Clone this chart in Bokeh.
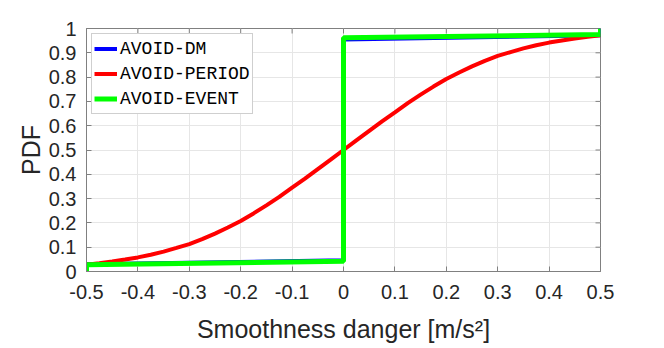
import math
from bokeh.plotting import figure
from bokeh.models import Range1d, FixedTicker, Legend, LegendItem
from bokeh.embed import file_html
from bokeh.resources import INLINE

# ---- data ----
x_ticks = [-0.5, -0.4, -0.3, -0.2, -0.1, 0.0, 0.1, 0.2, 0.3, 0.4, 0.5]
x_tick_labels = ["-0.5", "-0.4", "-0.3", "-0.2", "-0.1", "0", "0.1", "0.2", "0.3", "0.4", "0.5"]
y_ticks = [0.0, 0.1, 0.2, 0.3, 0.4, 0.5, 0.6, 0.7, 0.8, 0.9, 1.0]
y_tick_labels = ["0", "0.1", "0.2", "0.3", "0.4", "0.5", "0.6", "0.7", "0.8", "0.9", "1"]

period_x = [-0.5, -0.475, -0.45, -0.425, -0.4, -0.375, -0.35, -0.325, -0.3, -0.275,
            -0.25, -0.225, -0.2, -0.175, -0.15, -0.125, -0.1, -0.075, -0.05, -0.025,
            0.0, 0.025, 0.05, 0.075, 0.1, 0.125, 0.15, 0.175, 0.2, 0.225,
            0.25, 0.275, 0.3, 0.325, 0.35, 0.375, 0.4, 0.425, 0.45, 0.475, 0.5]
period_y = [0.028, 0.034, 0.041, 0.049, 0.058, 0.069, 0.082, 0.097, 0.113, 0.133,
            0.156, 0.181, 0.208, 0.239, 0.272, 0.307, 0.345, 0.382, 0.421, 0.460,
            0.500, 0.540, 0.579, 0.618, 0.655, 0.693, 0.728, 0.761, 0.792, 0.819,
            0.844, 0.867, 0.887, 0.903, 0.918, 0.931, 0.942, 0.951, 0.959, 0.966, 0.972]

dm_x = [-0.5, -0.5, 0.0, 0.0, 0.5, 0.5]
dm_y = [0.0, 0.030, 0.046, 0.955, 0.972, 1.0]

event_x = [-0.5, -0.5, 0.0, 0.0, 0.5, 0.5]
event_y = [0.0, 0.028, 0.042, 0.962, 0.975, 1.0]

labels = ["AVOID-DM", "AVOID-PERIOD", "AVOID-EVENT"]

# ---- figure ----
AX = "#808080"
TXT = "#262626"
GRID = "#e6e6e6"

p = figure(width=664, height=348, output_backend="svg", toolbar_location=None,
           x_range=Range1d(-0.5, 0.5), y_range=Range1d(0, 1),
           frame_width=514, frame_height=243,
           min_border_left=86, min_border_right=64, min_border_top=28, min_border_bottom=77,
           background_fill_color="white", border_fill_color="white")
p.outline_line_color = AX
p.outline_line_width = 1

xa = p.xaxis[0]
ya = p.yaxis[0]

def style_axis(ax, ticks, labs):
    ax.ticker = FixedTicker(ticks=ticks)
    ax.major_label_overrides = {t: l for t, l in zip(ticks, labs)}
    ax.axis_line_color = AX
    ax.major_tick_line_color = AX
    ax.major_tick_in = 5
    ax.major_tick_out = 0
    ax.minor_tick_line_color = None
    ax.major_label_text_font = "Liberation Sans"
    ax.major_label_text_color = TXT
    ax.major_label_text_font_size = "20px"
    ax.axis_label_text_font = "Liberation Sans"
    ax.axis_label_text_font_size = "25px"
    ax.axis_label_text_font_style = "normal"
    ax.axis_label_text_color = TXT

style_axis(xa, x_ticks, x_tick_labels)
style_axis(ya, y_ticks, y_tick_labels)
xa.major_label_standoff = 13
ya.major_label_standoff = 10
xa.axis_label = "Smoothness danger [m/s²]"
ya.axis_label = "PDF"
xa.axis_label_standoff = 13
ya.axis_label_standoff = 1

p.xgrid.ticker = FixedTicker(ticks=x_ticks)
p.ygrid.ticker = FixedTicker(ticks=y_ticks)
p.xgrid.grid_line_color = GRID
p.ygrid.grid_line_color = GRID

# inward tick marks on the top and right edges (half of each dash is clipped by the frame)
p.scatter(x_ticks, [y_ticks[-1]] * len(x_ticks), marker="dash", angle=math.pi / 2,
          size=10, line_color=AX, line_width=1)
p.scatter([x_ticks[-1]] * len(y_ticks), y_ticks, marker="dash",
          size=10, line_color=AX, line_width=1)

r_dm = p.line(dm_x, dm_y, line_color="#0000ff", line_width=4)
r_period = p.line(period_x, period_y, line_color="#ff0000", line_width=4)
r_event = p.line(event_x, event_y, line_color="#00ff00", line_width=5)

legend = Legend(items=[LegendItem(label=labels[0], renderers=[r_dm]),
                       LegendItem(label=labels[1], renderers=[r_period]),
                       LegendItem(label=labels[2], renderers=[r_event])],
                location="top_left")
legend.margin = 5
legend.padding = 2
legend.spacing = 0
legend.label_height = 25
legend.glyph_height = 25
legend.glyph_width = 23
legend.label_standoff = 3
legend.label_text_font = "Liberation Mono"
legend.label_text_font_size = "18px"
legend.label_text_color = "black"
legend.border_line_color = "#a0a0a0"
legend.border_line_width = 1
legend.background_fill_color = "white"
legend.background_fill_alpha = 1.0
p.add_layout(legend)

open("out.html", "w").write(file_html(p, INLINE))
